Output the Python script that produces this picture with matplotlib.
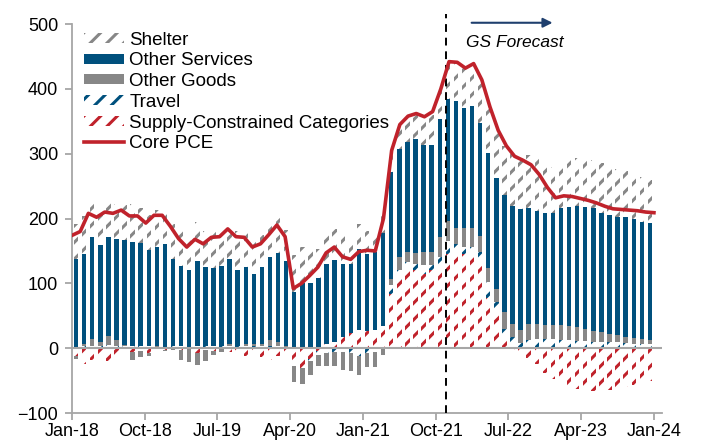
import numpy as np
import matplotlib
matplotlib.use('Agg')
from matplotlib import pyplot as plt
from matplotlib.patches import Patch
from matplotlib.lines import Line2D

plt.rcParams['font.family'] = ['Liberation Sans', 'DejaVu Sans']
plt.rcParams['hatch.linewidth'] = 2.2

# contributions, monthly Jan-18 .. Dec-23
supply = [-12, -24, -18, -12, -20, -14, -8, -6, -4, -8, -8, -3, -2, -3, -2, -8, -3, -4,
          -2, -6, -8, -12, -14, -14, -18, -12, -10, -28, -30, -16, -4, 6, 10, 18, 24, 28,
          26, 28, 34, 84, 105, 120, 120, 115, 120, 128, 145, 148, 145, 148, 137, 78, 60, 20,
          -3, -8, -15, -25, -38, -48, -56, -60, -63, -65, -66, -66, -65, -63, -60, -57, -54, -50]
travel = [2, 3, 4, 4, 5, 4, 4, 3, 3, 3, 2, 2, 3, 3, 2, 3, 3, 3,
          3, 3, 3, 3, 3, 3, 4, 3, 2, 0, 0, -3, -6, -8, -6, -6, -8, -12,
          -8, -6, -1, 13, 15, 13, 10, 13, 8, 13, 21, 13, 11, 8, 12, 24, 12, 10,
          17, 8, 13, 14, 14, 14, 12, 12, 11, 11, 10, 10, 9, 9, 8, 7, 6, 6]
goods = [-5, 3, 10, 6, 14, 8, 1, -12, -9, -4, 2, -2, -1, -15, -20, -18, -16, -7,
         -4, 4, 0, 3, 4, 3, 8, 6, 2, -24, -26, -22, -18, -20, -22, -28, -27, -30,
         -21, -23, -9, 9, 21, 15, 17, 20, 20, 31, 30, 24, 30, 30, 24, 21, 19, 26,
         20, 20, 25, 23, 21, 21, 23, 22, 21, 18, 17, 15, 13, 12, 10, 9, 8, 7]
services = [135, 140, 157, 149, 152, 156, 162, 161, 160, 149, 152, 158, 134, 124, 119, 132, 123, 121,
            124, 130, 117, 120, 108, 119, 128, 138, 130, 87, 100, 101, 109, 124, 126, 112, 106, 125,
            120, 120, 143, 166, 167, 170, 175, 165, 166, 181, 189, 196, 184, 187, 175, 178, 172, 181,
            182, 186, 178, 174, 174, 173, 182, 184, 187, 189, 189, 184, 183, 182, 184, 184, 181, 180]
shelter = [54, 58, 55, 55, 59, 54, 54, 58, 54, 53, 57, 50, 54, 60, 57, 59, 54, 58,
           51, 53, 60, 57, 55, 50, 55, 55, 48, 57, 56, 52, 44, 45, 48, 45, 42, 38,
           34, 31, 33, 33, 37, 40, 40, 44, 46, 47, 57, 60, 62, 66, 66, 71, 73, 75,
           80, 84, 82, 82, 77, 72, 74, 76, 75, 75, 74, 76, 75, 74, 71, 69, 69, 66]
core_pce = [174, 180, 208, 202, 210, 208, 213, 204, 204, 193, 205, 205, 188, 169, 156, 168, 161, 171,
            172, 184, 172, 171, 156, 161, 175, 190, 172, 92, 100, 112, 125, 147, 156, 141, 137, 149,
            151, 150, 200, 305, 345, 358, 362, 357, 365, 400, 442, 441, 432, 439, 414, 372, 336, 312,
            296, 290, 283, 268, 248, 232, 235, 234, 231, 228, 224, 219, 215, 214, 213, 212, 210, 209]
tick_labels = ['Jan-18', 'Oct-18', 'Jul-19', 'Apr-20', 'Jan-21', 'Oct-21', 'Jul-22', 'Apr-23', 'Jan-24']

BLUE = '#00507d'
GRAY = '#878787'
RED = '#c0222b'
AXC = '#a6a6a6'

fig = plt.figure(figsize=(7.06, 4.43), dpi=100)
ax = fig.add_axes([0.102, 0.0677, 0.8357, 0.878])

x = np.arange(len(core_pce))
w = 0.55
hatched = lambda c: dict(facecolor='white', edgecolor=c, hatch='//', linewidth=0)
solid = lambda c: dict(color=c, linewidth=0)
series = [(supply, hatched(RED)), (travel, hatched(BLUE)), (goods, solid(GRAY)),
          (services, solid(BLUE)), (shelter, hatched(GRAY))]

pos = np.zeros(len(x))
neg = np.zeros(len(x))
for vals, st in series:
    v = np.array(vals, dtype=float)
    p = np.where(v > 0, v, 0)
    n = np.where(v < 0, v, 0)
    ax.bar(x, p, w, bottom=pos, zorder=2, **st)
    ax.bar(x, n, w, bottom=neg, zorder=2, **st)
    pos += p
    neg += n

ax.axhline(0, color=AXC, lw=1.5, zorder=3)
ax.plot(np.linspace(-0.5, 71.5, len(core_pce)), core_pce, color=RED, lw=2.6, zorder=5)

# forecast marker
ax.plot([45.8, 45.8], [-100, 515], color='black', lw=1.4, dashes=(4, 3), clip_on=False, zorder=4)
ax.annotate('', xy=(59.3, 502), xytext=(48.6, 502), annotation_clip=False,
            arrowprops=dict(arrowstyle='-|>', color='#1f3f6e', lw=1.5, mutation_scale=14))
ax.text(48.3, 472, 'GS Forecast', fontsize=12.5, style='italic', va='center', ha='left')

ax.set_xlim(-0.5, 72.5)
ax.set_ylim(-100, 500)
ax.set_yticks(range(-100, 501, 100))
ax.set_xticks(np.arange(0, 73, 9) - 0.5)
ax.set_xticklabels(tick_labels)
for s in ['top', 'right']:
    ax.spines[s].set_visible(False)
for s in ['left', 'bottom']:
    ax.spines[s].set_color(AXC)
    ax.spines[s].set_linewidth(1.3)
ax.tick_params(axis='both', colors=AXC, length=5, width=1.3, labelsize=13, labelcolor='black')
ax.tick_params(axis='y', pad=5)
ax.tick_params(axis='x', pad=2)

handles = [Patch(**hatched(GRAY)), Patch(color=BLUE, linewidth=0), Patch(color=GRAY, linewidth=0),
           Patch(**hatched(BLUE)), Patch(**hatched(RED)), Line2D([], [], color=RED, lw=2.6)]
labels = ['Shelter', 'Other Services', 'Other Goods', 'Travel', 'Supply-Constrained Categories', 'Core PCE']
ax.legend(handles, labels, loc='upper left', bbox_to_anchor=(0.008, 1.0), frameon=False,
          fontsize=13.5, handlelength=2.1, handleheight=0.45, handletextpad=0.3,
          labelspacing=0.2, borderaxespad=0.2, borderpad=0.2)

fig.savefig('out.png', dpi=100)
